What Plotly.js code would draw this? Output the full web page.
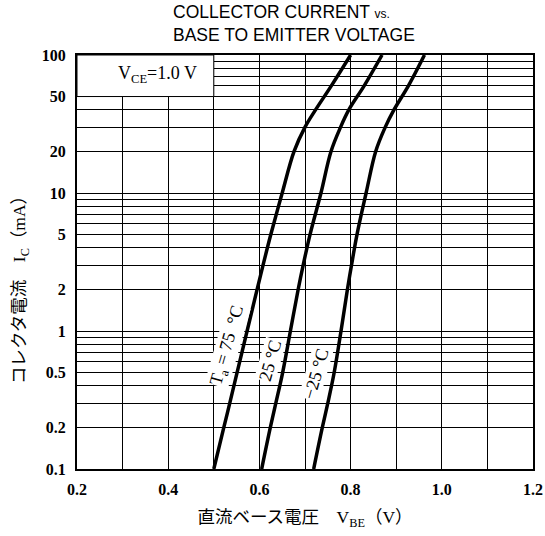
<!DOCTYPE html>
<html>
<head>
<meta charset="utf-8">
<script src="https://cdn.plot.ly/plotly-3.0.1.min.js"></script>
<style>html,body{margin:0;padding:0;background:#fff}#chart{width:545px;height:536px}</style>
</head>
<body>
<div id="chart"></div>
<script>
// Collector current Ic (mA) sample points
const icValues = [0.1, 0.2, 0.3, 0.5, 1, 2, 3, 5, 10, 20, 30, 40, 60, 100];
// Base-emitter voltage (V) for each ambient temperature
const vbeTa75 = [0.500, 0.522, 0.535, 0.551, 0.573, 0.595, 0.608, 0.625, 0.650, 0.676, 0.700, 0.723, 0.758, 0.800];
const vbeTa25 = [0.605, 0.624, 0.636, 0.651, 0.668, 0.685, 0.696, 0.711, 0.735, 0.757, 0.778, 0.796, 0.830, 0.869];
const vbeTaM25 = [0.719, 0.738, 0.750, 0.764, 0.779, 0.793, 0.802, 0.814, 0.834, 0.855, 0.876, 0.895, 0.927, 0.962];

// Tick labels
const xTickVals = [0.2, 0.4, 0.6, 0.8, 1.0, 1.2];
const xTickText = ['0.2', '0.4', '0.6', '0.8', '1.0', '1.2'];
const xGridVals = [0.3, 0.5, 0.7, 0.9, 1.1];
const yTickVals = [0.1, 0.2, 0.5, 1, 2, 5, 10, 20, 50, 100];
const yTickText = ['0.1', '0.2', '0.5', '1', '2', '5', '10', '20', '50', '100'];
const yGridVals = [0.3, 0.4, 0.6, 0.7, 0.8, 0.9, 3, 4, 6, 7, 8, 9, 30, 40, 60, 70, 80, 90];

const curveLine = {color: '#000', width: 3.5, shape: 'spline', smoothing: 1};
const traces = [
  {x: vbeTa75, y: icValues, mode: 'lines', line: curveLine, name: '75', hoverinfo: 'skip'},
  {x: vbeTa25, y: icValues, mode: 'lines', line: curveLine, name: '25', hoverinfo: 'skip'},
  {x: vbeTaM25, y: icValues, mode: 'lines', line: curveLine, name: '-25', hoverinfo: 'skip'}
];

const serif = 'Liberation Serif, DejaVu Serif, serif';
const tickFont = {family: serif, size: 16, color: '#000', weight: 'bold'};
const axisCommon = {
  showline: true, linewidth: 2, linecolor: '#000', mirror: true,
  showgrid: true, gridcolor: '#000', gridwidth: 1,
  ticks: '', zeroline: false, tickfont: tickFont, fixedrange: true
};

const labelFont = {family: serif, size: 18, color: '#000'};
const cjkFont = {family: 'Liberation Serif, Noto Sans CJK JP', size: 17.5, color: '#000'};
const layout = {
  width: 545, height: 536,
  margin: {l: 77, r: 12, t: 55, b: 67},
  paper_bgcolor: '#fff', plot_bgcolor: '#fff',
  showlegend: false,
  title: {
    text: 'COLLECTOR CURRENT <span style="font-size:12px">vs.</span><br>BASE TO EMITTER VOLTAGE',
    font: {family: 'Liberation Sans Narrow, Liberation Sans, Arial, sans-serif', size: 17.5, color: '#000'},
    xref: 'container', x: 173 / 545, xanchor: 'left',
    yref: 'container', y: 1 - 18 / 536, yanchor: 'top'
  },
  xaxis: Object.assign({}, axisCommon, {
    range: [0.2, 1.2],
    tickmode: 'array', tickvals: xTickVals, ticktext: xTickText,
    ticklabelstandoff: 5,
    minor: {tickmode: 'array', tickvals: xGridVals, showgrid: true, gridcolor: '#000', gridwidth: 1, ticks: ''},
    title: {
      text: '直流ベース電圧　V<sub>BE</sub>（V）',
      font: cjkFont,
      standoff: 14
    }
  }),
  yaxis: Object.assign({}, axisCommon, {
    type: 'log', range: [-1, 2],
    tickmode: 'array', tickvals: yTickVals, ticktext: yTickText,
    ticklabelstandoff: 6,
    minor: {tickmode: 'array', tickvals: yGridVals, showgrid: true, gridcolor: '#000', gridwidth: 1, ticks: ''}
  }),
  shapes: [
    {type: 'rect', xref: 'x', yref: 'y', x0: 0.2, x1: 0.5, y0: 50, y1: 100,
     fillcolor: '#fff', line: {color: '#000', width: 1}, layer: 'between'}
  ],
  annotations: [
    // annotation y on a log axis is given as log10 of the value
    {xref: 'x', yref: 'y', x: 0.376, y: Math.log10(72), text: 'V<sub>CE</sub>=1.0 V', showarrow: false,
     font: {family: serif, size: 18, color: '#000'}},
    {xref: 'x', yref: 'y', x: 0.53, y: Math.log10(0.79), text: 'T<sub>a</sub> = 75  °C', showarrow: false,
     textangle: -74, bgcolor: '#fff', font: labelFont, borderpad: 0},
    {xref: 'x', yref: 'y', x: 0.624, y: Math.log10(0.616), text: '25 °C', showarrow: false,
     textangle: -74, bgcolor: '#fff', font: labelFont, borderpad: 0},
    {xref: 'x', yref: 'y', x: 0.724, y: Math.log10(0.488), text: '−25 °C', showarrow: false,
     textangle: -74, bgcolor: '#fff', font: labelFont, borderpad: 0},
    {xref: 'paper', yref: 'paper', x: (20 - 77) / 456, y: 0.442, xanchor: 'center', yanchor: 'middle',
     text: 'コレクタ電流　I<sub>C</sub>（mA）', textangle: -90, showarrow: false,
     font: cjkFont}
  ]
};

Plotly.newPlot('chart', traces, layout, {displayModeBar: false, staticPlot: true});
</script>
</body>
</html>
